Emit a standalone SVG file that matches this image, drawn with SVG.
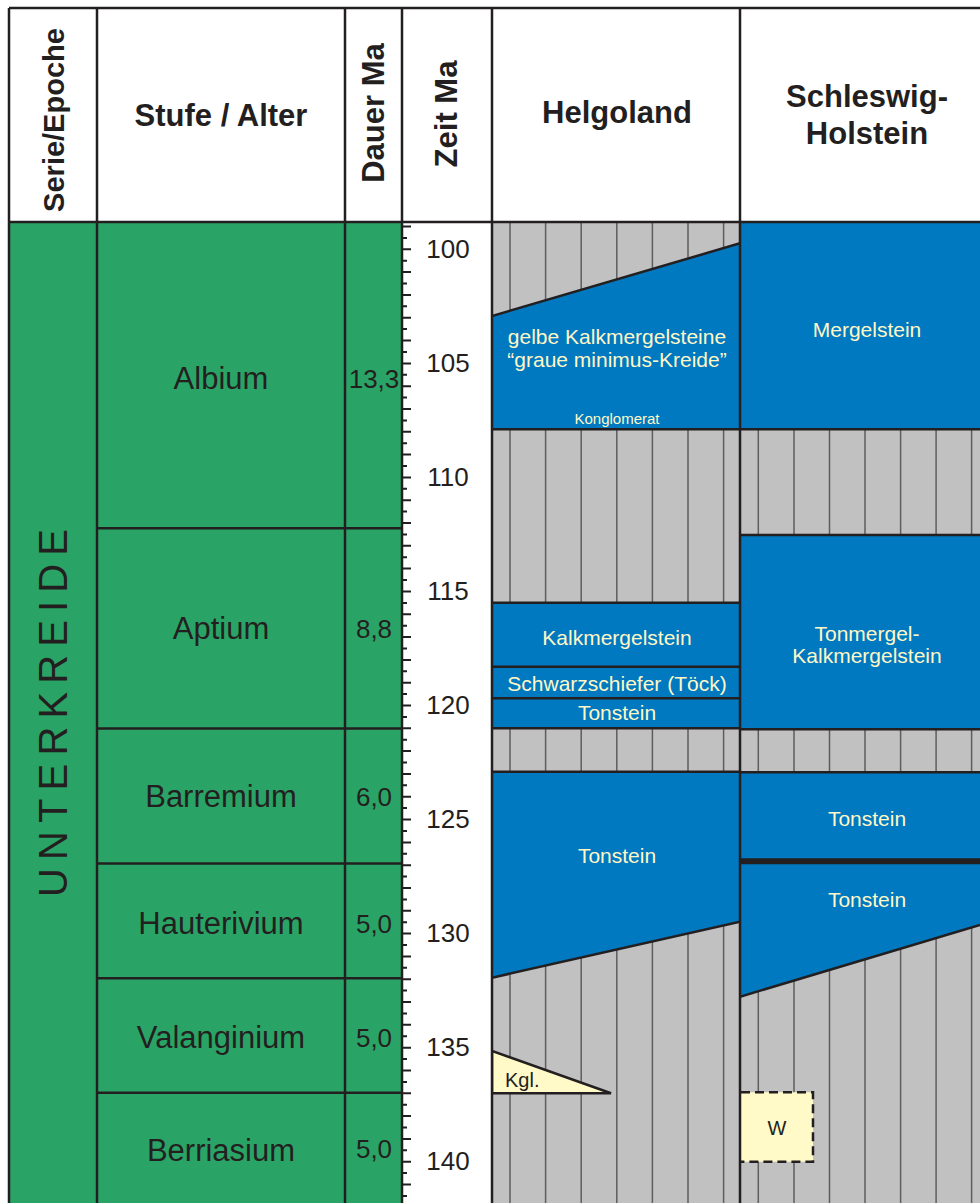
<svg xmlns="http://www.w3.org/2000/svg" width="980" height="1203" viewBox="0 0 980 1203">
<defs>
<style>
.ln{stroke:#231F20;stroke-width:2.5;fill:none}
.thin{stroke:#231F20;stroke-width:2;fill:none}
.hatch{stroke:#5E5E5E;stroke-width:1.5}
.blue{fill:#0079C1}
.gray{fill:#C1C1C1}
.green{fill:#2AA466}
.f{font-family:"Liberation Sans",Arial,sans-serif}
.hd{font-family:"Liberation Sans",Arial,sans-serif;font-weight:bold;font-size:31px;fill:#231F20;text-anchor:middle}
.st{font-family:"Liberation Sans",Arial,sans-serif;font-size:31px;fill:#231F20;text-anchor:middle}
.du{font-family:"Liberation Sans",Arial,sans-serif;font-size:26px;fill:#231F20;text-anchor:middle}
.tm{font-family:"Liberation Sans",Arial,sans-serif;font-size:26px;fill:#231F20;text-anchor:middle}
.lt{font-family:"Liberation Sans",Arial,sans-serif;font-size:21px;fill:#FFF8C6;text-anchor:middle}
.sm{font-size:15px}
.dk{font-family:"Liberation Sans",Arial,sans-serif;font-size:20px;fill:#231F20}
.pale{fill:#FFFAC8}
</style>
<clipPath id="hcl"><rect x="492" y="222" width="248" height="981"/></clipPath>
<clipPath id="scl"><rect x="740" y="222" width="240" height="981"/></clipPath>
</defs>

<rect x="0" y="0" width="980" height="1203" fill="#ffffff"/>

<!-- green stratigraphic columns -->
<g id="epoch">
<rect class="green" x="9" y="222" width="393" height="981"/>
<text class="f" font-size="40" fill="#231F20" text-anchor="middle" textLength="368" lengthAdjust="spacing" transform="translate(67,713) rotate(-90)">UNTERKREIDE</text>
</g>

<g id="stages">
<path class="ln" d="M97 528.3H402M97 728.5H402M97 863.5H402M97 978.3H402M97 1092.8H402"/>
<g id="albium"><text class="st" x="221" y="389">Albium</text><text class="du" x="374" y="388">13,3</text></g>
<g id="aptium"><text class="st" x="221" y="639">Aptium</text><text class="du" x="374" y="638">8,8</text></g>
<g id="barremium"><text class="st" x="221" y="807">Barremium</text><text class="du" x="374" y="806">6,0</text></g>
<g id="hauterivium"><text class="st" x="221" y="934">Hauterivium</text><text class="du" x="374" y="933">5,0</text></g>
<g id="valanginium"><text class="st" x="221" y="1048">Valanginium</text><text class="du" x="374" y="1047">5,0</text></g>
<g id="berriasium"><text class="st" x="221" y="1161">Berriasium</text><text class="du" x="374" y="1158">5,0</text></g>
</g>

<!-- time scale -->
<g id="timescale">
<path class="thin" d="M402 226.5h9M402 237.9h5M402 249.3h9M402 260.7h5M402 272.1h9M402 283.5h5M402 294.9h9M402 306.3h5M402 317.7h9M402 329.1h5M402 340.5h9M402 352h5M402 363.4h9M402 374.8h5M402 386.2h9M402 397.6h5M402 409h9M402 420.4h5M402 431.8h9M402 443.2h5M402 454.6h9M402 466h5M402 477.4h9M402 488.8h5M402 500.2h9M402 511.6h5M402 523h9M402 534.4h5M402 545.8h9M402 557.2h5M402 568.6h9M402 580h5M402 591.5h9M402 602.9h5M402 614.3h9M402 625.7h5M402 637.1h9M402 648.5h5M402 659.9h9M402 671.3h5M402 682.7h9M402 694.1h5M402 705.5h9M402 716.9h5M402 728.3h9M402 739.7h5M402 751.1h9M402 762.5h5M402 773.9h9M402 785.3h5M402 796.7h9M402 808.1h5M402 819.6h9M402 831h5M402 842.4h9M402 853.8h5M402 865.2h9M402 876.6h5M402 888h9M402 899.4h5M402 910.8h9M402 922.2h5M402 933.6h9M402 945h5M402 956.4h9M402 967.8h5M402 979.2h9M402 990.6h5M402 1002h9M402 1013.4h5M402 1024.8h9M402 1036.2h5M402 1047.7h9M402 1059.1h5M402 1070.5h9M402 1081.9h5M402 1093.3h9M402 1104.7h5M402 1116.1h9M402 1127.5h5M402 1138.9h9M402 1150.3h5M402 1161.7h9M402 1173.1h5M402 1184.5h9M402 1195.9h5"/>
<text class="tm" x="448" y="258">100</text>
<text class="tm" x="448" y="372">105</text>
<text class="tm" x="448" y="486">110</text>
<text class="tm" x="448" y="600">115</text>
<text class="tm" x="448" y="714">120</text>
<text class="tm" x="448" y="828">125</text>
<text class="tm" x="448" y="942">130</text>
<text class="tm" x="448" y="1056">135</text>
<text class="tm" x="448" y="1170">140</text>
</g>

<!-- Helgoland column -->
<g id="helgoland" clip-path="url(#hcl)">
<rect class="gray" x="492" y="222" width="248" height="981"/>
<path class="hatch" d="M510 222V1203M545.6 222V1203M581.2 222V1203M616.8 222V1203M652.4 222V1203M688 222V1203M723.6 222V1203"/>
<g id="h-kalkmergel-gelb">
<polygon class="blue" points="492,316 740,243.3 740,429.3 492,429.3"/>
<path class="ln" d="M492 316L740 243.3M492 429.3H740"/>
<text class="lt" x="617" y="344">gelbe Kalkmergelsteine</text>
<text class="lt" x="617" y="367">“graue minimus-Kreide”</text>
<text class="lt sm" x="617" y="424">Konglomerat</text>
</g>
<g id="h-kalkmergelstein">
<rect class="blue" x="492" y="602.7" width="248" height="64"/>
<text class="lt" x="617" y="645">Kalkmergelstein</text>
</g>
<g id="h-schwarzschiefer">
<rect class="blue" x="492" y="666.7" width="248" height="31.6"/>
<text class="lt" x="617" y="691">Schwarzschiefer (Töck)</text>
</g>
<g id="h-tonstein1">
<rect class="blue" x="492" y="698.3" width="248" height="30"/>
<text class="lt" x="617" y="720">Tonstein</text>
</g>
<path class="ln" d="M492 602.7H740M492 666.7H740M492 698.3H740M492 728.3H740"/>
<g id="h-tonstein2">
<polygon class="blue" points="492,771.7 740,771.7 740,921.7 492,977.7"/>
<path class="ln" d="M492 771.7H740M492 977.7L740 921.7"/>
<text class="lt" x="617" y="863">Tonstein</text>
</g>
<g id="h-kgl">
<polygon class="pale" points="492,1051 611,1093.3 492,1093.3" stroke="#231F20" stroke-width="2.5" stroke-linejoin="miter"/>
<text class="dk" x="505" y="1087">Kgl.</text>
</g>
</g>

<!-- Schleswig-Holstein column -->
<g id="schleswig-holstein" clip-path="url(#scl)">
<rect class="gray" x="740" y="222" width="240" height="981"/>
<path class="hatch" d="M758.3 222V1203M794 222V1203M829.5 222V1203M865 222V1203M900.6 222V1203M936.1 222V1203M971.6 222V1203"/>
<g id="s-mergelstein">
<rect class="blue" x="740" y="222" width="240" height="207.3"/>
<text class="lt" x="867" y="337">Mergelstein</text>
</g>
<g id="s-tonmergel">
<rect class="blue" x="740" y="535" width="240" height="194.3"/>
<text class="lt" x="867" y="641">Tonmergel-</text>
<text class="lt" x="867" y="663">Kalkmergelstein</text>
</g>
<g id="s-tonstein1">
<rect class="blue" x="740" y="772.3" width="240" height="89"/>
<text class="lt" x="867" y="826">Tonstein</text>
</g>
<g id="s-tonstein2">
<polygon class="blue" points="740,861 980,861 980,925 740,996.7"/>
<text class="lt" x="867" y="907">Tonstein</text>
</g>
<path class="ln" d="M740 429.3H980M740 535H980M740 729.3H980M740 772.3H980M740 996.7L980 925"/>
<path d="M740 861.3H980" stroke="#231F20" stroke-width="6"/>
<g id="s-w">
<rect class="pale" x="741" y="1092.3" width="72" height="69.4"/>
<path d="M741 1092.3H813V1161.7H741" fill="none" stroke="#231F20" stroke-width="2.5" stroke-dasharray="9,5"/>
<text class="dk" x="777" y="1135" text-anchor="middle">W</text>
</g>
</g>

<!-- header -->
<g id="header">
<text class="hd" style="font-size:29px" transform="translate(64,120) rotate(-90)">Serie/Epoche</text>
<text class="hd" x="221" y="126">Stufe / Alter</text>
<text class="hd" transform="translate(384,113) rotate(-90)">Dauer Ma</text>
<text class="hd" transform="translate(457,114) rotate(-90)">Zeit Ma</text>
<text class="hd" x="617" y="123">Helgoland</text>
<text class="hd" x="867" y="107">Schleswig-</text>
<text class="hd" x="867" y="144">Holstein</text>
</g>

<!-- frame / column borders -->
<g id="frame">
<path class="ln" d="M9 8H980M9 222H980M9 8V1203M97 8V1203M345 8V1203M402 8V1203M492 8V1203M740 8V1203"/>
</g>
</svg>
